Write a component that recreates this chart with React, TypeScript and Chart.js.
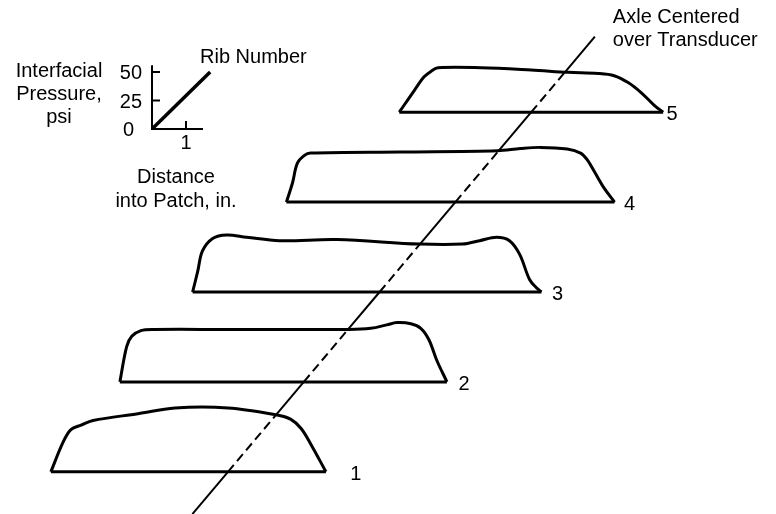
import { useEffect, useRef } from "react";
import { Chart, registerables } from "chart.js";

Chart.register(...registerables);

// Contact-patch pressure profiles, one per tread rib.
// Distance into patch (in.) is measured from the axle centre line; pressure in psi.
const RIB_NUMBERS = [1, 2, 3, 4, 5];

const RIB1_DIST = [-5.21, -4.85, -4.62, -4.32, -3.97, -2.65, -1.56, 0, 1.41, 1.85, 2.15, 2.44, 2.88];
const RIB1_PSI = [0, 26, 37, 41, 45, 51, 56, 56, 50, 46, 38, 24, 0];

const RIB2_DIST = [-5.41, -5.21, -5.06, -4.79, -4.41, -2.26, 1.32, 1.97, 2.44, 2.74, 3.15, 3.44, 3.68, 3.91, 4.21];
const RIB2_PSI = [0, 31, 40, 45, 46, 46, 46, 47, 50, 52, 51, 47, 37, 19, 0];

const RIB3_DIST = [-5.5, -5.35, -5.21, -4.91, -4.5, -3.91, -2.94, -1.26, 1.18, 2.44, 2.94, 3.44, 3.82, 4.12, 4.41, 4.62, 4.76];
const RIB3_PSI = [0, 18, 36, 47, 50, 48, 45, 46, 42, 42, 45, 48, 45, 33, 11, 3.5, 0];

const RIB4_DIST = [-4.97, -4.79, -4.65, -4.44, -4.26, -1.62, 1.24, 1.91, 2.5, 3.29, 3.68, 3.88, 4.12, 4.38, 4.68];
const RIB4_PSI = [0, 17, 34, 41, 43, 44, 45, 47, 48, 46.5, 43, 37, 25, 12, 0];

const RIB5_DIST = [-3.88, -3.44, -3.15, -2.94, -2.74, -1.47, 0, 1.09, 1.97, 2.44, 2.85, 3.24, 3.62, 3.88];
const RIB5_PSI = [0, 19, 31, 36, 39, 39, 37, 35, 34, 32, 26, 17, 6, 0];

const RIB_DIST = [RIB1_DIST, RIB2_DIST, RIB3_DIST, RIB4_DIST, RIB5_DIST];
const RIB_PSI = [RIB1_PSI, RIB2_PSI, RIB3_PSI, RIB4_PSI, RIB5_PSI];

// Key axes
const PRESSURE_TICKS = [0, 25, 50];
const DISTANCE_TICKS = [1];

// Axle centre line runs across the ribs, expressed in rib numbers
const AXLE_RIB_SPAN = [0.53, 5.84];

// ---- layout / projection ----
const W = 776;
const H = 514;
const PX_PER_IN = 34;
const PX_PER_PSI = 1.14;
// oblique offset between neighbouring ribs
const RIB_STEP_IN = 75.8 / PX_PER_IN;
const RIB_STEP_PSI = 89.9 / PX_PER_PSI;
// scale windows (rib 1 axle point sits at 0,0)
const X_MIN = -228 / PX_PER_IN;
const X_MAX = X_MIN + W / PX_PER_IN;
const Y_MAX = 471.8 / PX_PER_PSI;
const Y_MIN = Y_MAX - H / PX_PER_PSI;
// key origin
const KEY_X = -2.235;
const KEY_Y = 300.7;
const KEY_TOP_PSI = 56;
const KEY_DIST_LEN = 1.5;
const KEY_TICK_IN = 8 / PX_PER_IN;
const KEY_TICK_PSI = 8 / PX_PER_PSI;
const KEY_RIB_DIAG = { x: 1.71, y: 50 };
const RIB_LABEL_GAP = [30, 17, 16, 15, 9];

const FONT = '20px "Liberation Sans", Arial, Helvetica, sans-serif';

const project = (rib: number, d: number, p: number) => ({
  x: d + (rib - 1) * RIB_STEP_IN,
  y: p + (rib - 1) * RIB_STEP_PSI,
});

// how far (in ribs) the axle line travels from a rib's base before meeting its profile
function axleCrossing(dist: number[], psi: number[]): number {
  const k = RIB_STEP_PSI / RIB_STEP_IN;
  for (let i = 0; i < dist.length - 1; i++) {
    const f0 = psi[i] - k * dist[i];
    const f1 = psi[i + 1] - k * dist[i + 1];
    if (f0 >= 0 && f1 < 0) {
      const u = f0 / (f0 - f1);
      const d = dist[i] + u * (dist[i + 1] - dist[i]);
      return d / RIB_STEP_IN;
    }
  }
  return 0;
}

const axlePoint = (t: number) => ({ x: (t - 1) * RIB_STEP_IN, y: (t - 1) * RIB_STEP_PSI });

const line = (data: { x: number; y: number }[], width: number, extra: Record<string, unknown> = {}) => ({
  data,
  borderColor: "#000",
  borderWidth: width,
  pointRadius: 0,
  fill: false,
  tension: 0,
  borderJoinStyle: "round" as const,
  ...extra,
});

export default function App() {
  const ref = useRef<HTMLCanvasElement>(null);

  useEffect(() => {
    const canvas = ref.current;
    if (!canvas) return;

    const datasets: any[] = [];

    // axle centre line: dashed where it passes behind a profile
    const crossings = RIB_NUMBERS.map((r, i) => axleCrossing(RIB_DIST[i], RIB_PSI[i]));
    let t = AXLE_RIB_SPAN[0];
    RIB_NUMBERS.forEach((r, i) => {
      datasets.push(line([axlePoint(t), axlePoint(r)], 2, { order: 5 }));
      datasets.push(line([axlePoint(r), axlePoint(r + crossings[i])], 2, { borderDash: [9, 5], order: 5 }));
      t = r + crossings[i];
    });
    datasets.push(line([axlePoint(t), axlePoint(AXLE_RIB_SPAN[1])], 2, { order: 5 }));

    // rib profiles with their base lines
    RIB_NUMBERS.forEach((r, i) => {
      const dist = RIB_DIST[i];
      const psi = RIB_PSI[i];
      datasets.push(line(dist.map((d, j) => project(r, d, psi[j])), 3, { tension: 0.35, order: 1 }));
      datasets.push(line([project(r, dist[0], 0), project(r, dist[dist.length - 1], 0)], 3, { order: 1 }));
    });

    // key axes
    datasets.push(line([{ x: KEY_X, y: KEY_Y + KEY_TOP_PSI }, { x: KEY_X, y: KEY_Y }, { x: KEY_X + KEY_DIST_LEN, y: KEY_Y }], 2, { borderJoinStyle: "miter" }));
    PRESSURE_TICKS.filter((v) => v > 0).forEach((v) =>
      datasets.push(line([{ x: KEY_X, y: KEY_Y + v }, { x: KEY_X + KEY_TICK_IN, y: KEY_Y + v }], 2))
    );
    DISTANCE_TICKS.forEach((v) =>
      datasets.push(line([{ x: KEY_X + v, y: KEY_Y }, { x: KEY_X + v, y: KEY_Y + KEY_TICK_PSI }], 2))
    );
    datasets.push(line([{ x: KEY_X, y: KEY_Y }, { x: KEY_X + KEY_RIB_DIAG.x, y: KEY_Y + KEY_RIB_DIAG.y }], 3.5));

    const textPlugin = {
      id: "ribText",
      afterDatasetsDraw(chart: any) {
        const { ctx } = chart;
        const xs = chart.scales.x;
        const ys = chart.scales.y;
        const px = (x: number) => xs.getPixelForValue(x);
        const py = (y: number) => ys.getPixelForValue(y);
        ctx.save();
        ctx.fillStyle = "#000";
        ctx.font = FONT;
        ctx.textBaseline = "alphabetic";

        const ox = px(KEY_X);
        const oy = py(KEY_Y);

        ctx.textAlign = "center";
        ctx.fillText("Interfacial", ox - 93, oy - 52);
        ctx.fillText("Pressure,", ox - 93, oy - 29);
        ctx.fillText("psi", ox - 93, oy - 6);

        ctx.textAlign = "right";
        PRESSURE_TICKS.forEach((v) => {
          const right = v === 0 ? ox - 18 : ox - 10;
          ctx.fillText(String(v), right, py(KEY_Y + v) + 7);
        });

        ctx.textAlign = "center";
        DISTANCE_TICKS.forEach((v) => ctx.fillText(String(v), px(KEY_X + v), oy + 20));
        ctx.fillText("Distance", ox + 24, oy + 54);
        ctx.fillText("into Patch, in.", ox + 24, oy + 78);

        ctx.textAlign = "left";
        ctx.fillText("Rib Number", ox + 48, oy - 66);

        const top = axlePoint(AXLE_RIB_SPAN[1]);
        ctx.fillText("Axle Centered", px(top.x) + 18, py(top.y) - 14);
        ctx.fillText("over Transducer", px(top.x) + 18, py(top.y) + 9);

        ctx.textAlign = "center";
        RIB_NUMBERS.forEach((r, i) => {
          const dist = RIB_DIST[i];
          const foot = project(r, dist[dist.length - 1], 0);
          ctx.fillText(String(r), px(foot.x) + RIB_LABEL_GAP[i], py(foot.y) + 8);
        });
        ctx.restore();
      },
    };

    const chart = new Chart(canvas, {
      type: "line",
      data: { datasets },
      options: {
        animation: false,
        responsive: false,
        devicePixelRatio: 1,
        layout: { padding: 0 },
        scales: {
          x: { type: "linear", min: X_MIN, max: X_MAX, display: false },
          y: { type: "linear", min: Y_MIN, max: Y_MAX, display: false },
        },
        plugins: { legend: { display: false }, tooltip: { enabled: false } },
        elements: { point: { radius: 0 } },
      },
      plugins: [textPlugin],
    });
    return () => chart.destroy();
  }, []);

  return (
    <div style={{ position: "fixed", left: 0, top: 0, width: W, height: H, background: "#fff" }}>
      <canvas ref={ref} width={W} height={H} style={{ display: "block" }} />
    </div>
  );
}
